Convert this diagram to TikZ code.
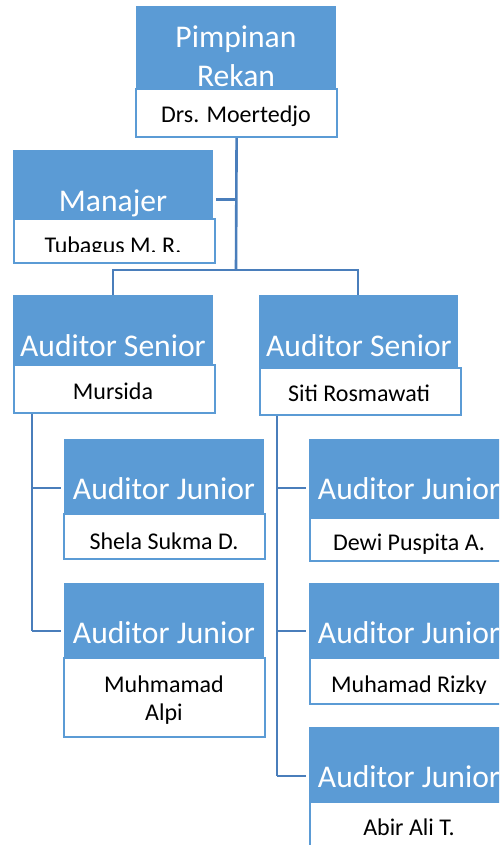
\documentclass[tikz,border=0pt]{standalone}
\usepackage{fontspec}
\setmainfont{Carlito}
\definecolor{boxblue}{HTML}{5B9BD5}
\definecolor{linkblue}{HTML}{4A7EBB}
\begin{document}
\begin{tikzpicture}[x=1pt,y=-1pt,
  titlebox/.style={fill=boxblue,draw=none,inner sep=0pt,anchor=north west},
  namebox/.style={fill=white,draw=boxblue,line width=2.2pt,inner sep=0pt,anchor=north west},
  titletext/.style={text=white,font=\fontsize{31.6}{41}\selectfont,anchor=base,inner sep=0pt,align=center},
  nametext/.style={text=black,font=\fontsize{24}{29}\selectfont,anchor=base,inner sep=0pt,align=center},
  link/.style={draw=linkblue,line width=2.6pt}]
\useasboundingbox (0,0) rectangle (499,845);
\clip (0,0) rectangle (499,845);
% Pimpinan
\node[titlebox,minimum width=200pt,minimum height=82pt] (pb) at (136,6) {};
\node[titletext] (pt) at (236,48) {Pimpinan};
\node[titletext] (pt2) at (236,87) {Rekan};
\node[namebox,minimum width=201pt,minimum height=48pt] (pw) at (135,88) {};
\node[nametext] (pn) at (236,123) {Drs. Moertedjo};
% Manajer
\node[titlebox,minimum width=200pt,minimum height=68pt] (mb) at (13,150) {};
\node[titletext] (mt) at (113,211) {Manajer};
\node[namebox,minimum width=201pt,minimum height=44pt] (mw) at (13,218) {};
\begin{scope}
\clip (13,218) rectangle (214,251);
\node[nametext] (mn) at (113,253) {Tubagus M. R.};
\end{scope}
% Senior left
\node[titlebox,minimum width=200pt,minimum height=69pt] (slb) at (13,295) {};
\node[titletext] (slt) at (113,356) {Auditor Senior};
\node[namebox,minimum width=201pt,minimum height=48pt] (slw) at (13,364) {};
\node[nametext] (sln) at (113,399) {Mursida};
% Senior right
\node[titlebox,minimum width=199pt,minimum height=72pt] (srb) at (259,295) {};
\node[titletext] (srt) at (359,356) {Auditor Senior};
\node[namebox,minimum width=201pt,minimum height=47pt] (srw) at (259,367) {};
\node[nametext] (srn) at (359,401) {Siti Rosmawati};
% Junior left 1
\node[titlebox,minimum width=200pt,minimum height=74pt] (j1b) at (64,439) {};
\node[titletext] (j1t) at (164,499) {Auditor Junior};
\node[namebox,minimum width=201pt,minimum height=45pt] (j1w) at (63,513) {};
\node[nametext] (j1n) at (164,549) {Shela Sukma D.};
% Junior left 2
\node[titlebox,minimum width=200pt,minimum height=74pt] (j2b) at (64,583) {};
\node[titletext] (j2t) at (164,643) {Auditor Junior};
\node[namebox,minimum width=201pt,minimum height=79pt] (j2w) at (63,657) {};
\node[nametext] (j2n) at (164,692) {Muhmamad};
\node[nametext] (j2n2) at (164,720) {Alpi};
% Junior right 1
\node[titlebox,minimum width=200pt,minimum height=78pt] (j3b) at (309,439) {};
\node[titletext] (j3t) at (409,499) {Auditor Junior};
\node[namebox,minimum width=201pt,minimum height=43pt] (j3w) at (309,517) {};
\begin{scope}
\clip (309,517) rectangle (510,553);
\node[nametext] (j3n) at (409,550) {Dewi Puspita A.};
\end{scope}
% Junior right 2
\node[titlebox,minimum width=200pt,minimum height=74pt] (j4b) at (309,583) {};
\node[titletext] (j4t) at (409,643) {Auditor Junior};
\node[namebox,minimum width=201pt,minimum height=46pt] (j4w) at (309,657) {};
\begin{scope}
\clip (309,657) rectangle (510,693);
\node[nametext] (j4n) at (409,692) {Muhamad Rizky};
\end{scope}
% Junior right 3
\node[titlebox,minimum width=200pt,minimum height=74pt] (j5b) at (309,727) {};
\node[titletext] (j5t) at (409,787) {Auditor Junior};
\node[namebox,minimum width=201pt,minimum height=60pt] (j5w) at (309,801) {};
\node[nametext] (j5n) at (409,835) {Abir Ali T.};
% connector points
\coordinate (hub) at (236,270);
\coordinate (mgr) at (236,199.5);
\coordinate (mgrend) at (216,199.5);
\coordinate (hl) at (113,270);
\coordinate (hr) at (358,270);
\coordinate (sl1) at (32,488);
\coordinate (sl2) at (32,631);
\coordinate (sr1) at (277,488);
\coordinate (sr2) at (277,631);
\coordinate (sr3) at (277,776);
% connectors
\draw[link] (pw.south) -- (hub);
\draw[link] (mgr) -- (mgrend);
\draw[link] (hl |- slb.north) -- (hl) -- (hr) -- (hr |- srb.north);
\draw[link] (sl1 |- slw.south) -- (sl2);
\draw[link] (sl1) -- ([xshift=-3pt]sl1 -| j1b.west);
\draw[link] (sl2) -- ([xshift=-3pt]sl2 -| j2b.west);
\draw[link] (sr1 |- srw.south) -- (sr3);
\draw[link] (sr1) -- ([xshift=-3pt]sr1 -| j3b.west);
\draw[link] (sr2) -- ([xshift=-3pt]sr2 -| j4b.west);
\draw[link] (sr3) -- ([xshift=-3pt]sr3 -| j5b.west);
\end{tikzpicture}
\end{document}
